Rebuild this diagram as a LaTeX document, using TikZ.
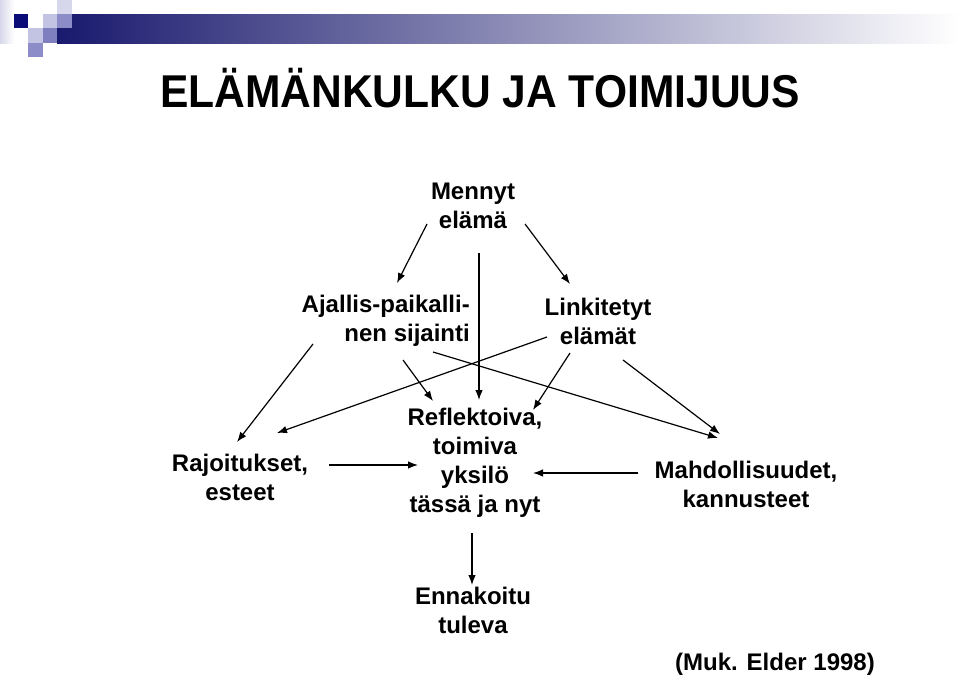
\documentclass[tikz,border=0pt]{standalone}
\usepackage{fontspec}
\setmainfont{Liberation Sans}
\usetikzlibrary{arrows.meta}
\definecolor{navyColor}{RGB}{10,10,120}
\definecolor{barColor}{RGB}{25,25,110}
\definecolor{midColor}{RGB}{140,140,200}
\definecolor{lightColor}{RGB}{195,195,228}
\definecolor{paleColor}{RGB}{215,215,235}

\tikzset{
  lbl/.style={font=\bfseries\fontsize{24}{29}\selectfont, align=center, inner sep=0pt},
  arr/.style={-{Latex[length=10pt,width=7.5pt]}, line width=1.2pt},
}

\begin{document}
\begin{tikzpicture}[x=1pt, y=-1pt]
    \useasboundingbox (0,0) rectangle (959,678);

    % 1. OTSIKKOPALKKI (ruudut + liukuvari)
    \shade[left color=paleColor, right color=white] (0,0) rectangle (14,43);
    \shade[left color=barColor, right color=white] (57,14) rectangle (959,43);
    \fill[navyColor] (14,14) rectangle (28,28);
    \fill[paleColor] (57,0) rectangle (72,14);
    \fill[lightColor] (43,14) rectangle (57,28);
    \fill[midColor] (57,14) rectangle (72,28);
    \fill[lightColor] (28,28) rectangle (43,43);
    \fill[midColor!90!navyColor] (43,28) rectangle (57,43);
    \fill[midColor] (28,43) rectangle (43,57);

    \node[inner sep=0pt, font=\bfseries\fontsize{46}{50}\selectfont] (title) at (480,88)
        {\scalebox{0.925}[1]{ELÄMÄNKULKU JA TOIMIJUUS}};

    % 2. KASITTEET
    \node[lbl] (past) at (473,206) {Mennyt\\elämä};
    \node[lbl, align=right, anchor=east] (place) at (470,321) {Ajallis-paikalli-\\nen sijainti};
    \node[lbl] (linked) at (598,321) {Linkitetyt\\elämät};
    \node[lbl] (limits) at (240,477) {Rajoitukset,\\esteet};
    \node[lbl] (agent) at (475,463) {Reflektoiva,\\toimiva\\yksilö\\tässä ja nyt};
    \node[lbl] (chances) at (746,484) {Mahdollisuudet,\\kannusteet};
    \node[lbl] (future) at (473,610) {Ennakoitu\\tuleva};
    \node[lbl] (source) at (775,664) {(Muk. Elder 1998)};

    % 3. NUOLET
    \draw[arr] ([shift={(-46,18)}]past.center) -- ([shift={(-73,-38)}]place.east);
    \draw[arr] ([shift={(6,47)}]past.center) -- ([shift={(4,-63)}]agent.center);
    \draw[arr] ([shift={(52,18)}]past.center) -- ([shift={(-28,-37)}]linked.center);
    \draw[arr] ([shift={(-157,23)}]place.east) -- ([shift={(-3,-35)}]limits.center);
    \draw[arr] ([shift={(-37,31)}]place.east) -- ([shift={(-28,-46)}]chances.center);
    \draw[arr] ([shift={(-51,16)}]linked.center) -- ([shift={(37,-44)}]limits.center);
    \draw[arr] ([shift={(-67,39)}]place.east) -- ([shift={(-42,-62)}]agent.center);
    \draw[arr] ([shift={(-28,32)}]linked.center) -- ([shift={(58,-53)}]agent.center);
    \draw[arr] ([shift={(25,39)}]linked.center) -- ([shift={(-26,-50)}]chances.center);
    \draw[arr] ([shift={(89,-12)}]limits.center) -- ([shift={(-57,2)}]agent.center);
    \draw[arr] ([shift={(-108,-11)}]chances.center) -- ([shift={(58,10)}]agent.center);
    \draw[arr] ([shift={(-3,70)}]agent.center) -- ([shift={(-1,-25)}]future.center);

\end{tikzpicture}
\end{document}
